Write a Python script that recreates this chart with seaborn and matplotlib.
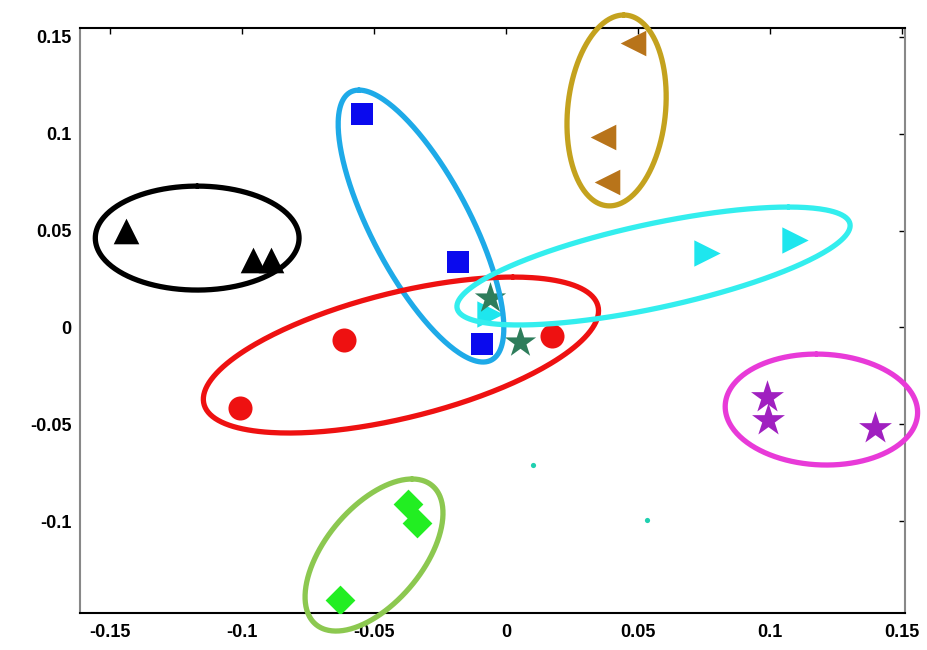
import numpy as np
import pandas as pd
import seaborn as sns
import matplotlib.pyplot as plt

# ======== point data ================================
black_x = [-0.144, -0.096, -0.089]
black_y = [0.050, 0.035, 0.035]

blue_x = [-0.0546, -0.0182, -0.0091]
blue_y = [0.110, 0.034, -0.0085]

red_x = [-0.0614, -0.1008, 0.0174]
red_y = [-0.0064, -0.0415, -0.0044]

cyan_x = [0.0761, 0.1095, -0.0061]
cyan_y = [0.0384, 0.0451, 0.0070]

seagreen_x = [-0.0061, 0.0053]
seagreen_y = [0.0152, -0.0075]

brown_x = [0.0481, 0.0367, 0.0383]
brown_y = [0.1466, 0.0982, 0.0750]

purple_x = [0.0989, 0.0992, 0.1398]
purple_y = [-0.0358, -0.0477, -0.0518]

green_x = [-0.0371, -0.0337, -0.0629]
green_y = [-0.0910, -0.1008, -0.1405]

dot_x = [0.0102, 0.0534]
dot_y = [-0.0709, -0.0992]

# ======== ellipses: centre, offset of top point, half-width at centre =========
ell_names = ['black', 'blue', 'red', 'cyan', 'olive', 'magenta', 'green']
ell_cx = [-0.1170, -0.0322, -0.0398, 0.0559, 0.0419, 0.1195, -0.0500]
ell_cy = [0.0461, 0.0523, -0.0142, 0.0317, 0.1119, -0.0423, -0.1173]
ell_tx = [0.0000, -0.0235, 0.0424, 0.0511, 0.0027, -0.0019, 0.0144]
ell_ty = [0.0268, 0.0701, 0.0402, 0.0304, 0.0492, 0.0286, 0.0392]
ell_w = [0.0386, 0.0208, 0.0617, 0.0542, 0.0186, 0.0364, 0.0218]
ell_colors = ['#000000', '#1eaae8', '#ee1111', '#33eeee', '#c4a21e', '#e83ad8', '#8cc850']

sns.set_style("white")
plt.rcParams['font.family'] = ['Liberation Sans', 'DejaVu Sans']

fig = plt.figure(figsize=(9.28, 6.5), dpi=100)
ax = fig.add_axes([0.0862, 0.0569, 0.8888, 0.9000])

groups = [
    (black_x, black_y, '^', '#000000', 340),
    (blue_x, blue_y, 's', '#0a0aee', 260),
    (red_x, red_y, 'o', '#ee1111', 300),
    (cyan_x, cyan_y, '>', '#1ee6ee', 360),
    (seagreen_x, seagreen_y, '*', '#2e7d5b', 560),
    (brown_x, brown_y, '<', '#b8741a', 340),
    (purple_x, purple_y, '*', '#a020c0', 620),
    (green_x, green_y, 'D', '#22ee22', 230),
    (dot_x, dot_y, 'o', '#20d0b0', 14),
]
for gx, gy, mk, col, sz in groups:
    sns.scatterplot(x=gx, y=gy, marker=mk, color=col, s=sz, linewidth=0, ax=ax, zorder=3)

t = np.linspace(0, 2 * np.pi, 300)
for i in range(len(ell_names)):
    ex = ell_cx[i] + ell_tx[i] * np.cos(t) + ell_w[i] * np.sin(t)
    ey = ell_cy[i] + ell_ty[i] * np.cos(t)
    ax.plot(ex, ey, color=ell_colors[i], lw=3.8, clip_on=False, zorder=4)

ax.set_xlim(-0.1614, 0.1511)
ax.set_ylim(-0.1472, 0.1544)
ax.set_xticks([-0.15, -0.1, -0.05, 0, 0.05, 0.1, 0.15])
ax.set_xticklabels(['-0.15', '-0.1', '-0.05', '0', '0.05', '0.1', '0.15'])
ax.set_yticks([-0.1, -0.05, 0, 0.05, 0.1, 0.15])
ax.set_yticklabels(['-0.1', '-0.05', '0', '0.05', '0.1', '0.15'])
ax.tick_params(direction='in', length=4, width=1, top=True, right=True,
               labelsize=13, colors='#000000')
ax.tick_params(axis='x', pad=8)
ax.tick_params(axis='y', pad=6)
for lab in ax.get_xticklabels() + ax.get_yticklabels():
    lab.set_fontweight('bold')

for side in ['top', 'bottom']:
    ax.spines[side].set_color('#000000')
    ax.spines[side].set_linewidth(1.5)
for side in ['left', 'right']:
    ax.spines[side].set_color('#888888')
    ax.spines[side].set_linewidth(1.5)

fig.savefig('out.png', dpi=100)
